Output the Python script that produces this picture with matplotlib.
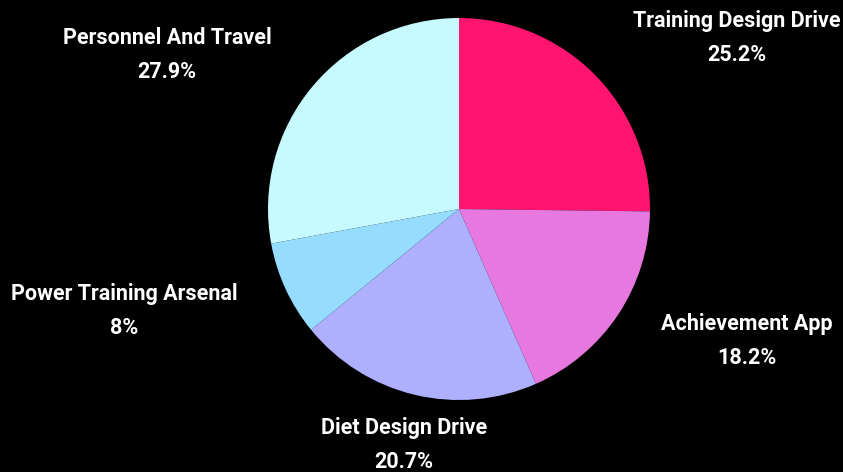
import matplotlib.pyplot as plt

labels = ['Training Design Drive', 'Achievement App', 'Diet Design Drive',
          'Power Training Arsenal', 'Personnel And Travel']
values = [25.2, 18.2, 20.7, 8, 27.9]
pct_text = ['25.2%', '18.2%', '20.7%', '8%', '27.9%']
colors = ['#ff1470', '#e678e0', '#aeb0fe', '#96dcff', '#c6faff']

# label centres in pixels (top-left origin)
label_pos = [(737, 38), (747, 341), (404, 445), (124, 311), (167, 55)]

W, H = 843, 472
fig = plt.figure(figsize=(W / 100, H / 100), dpi=100)
fig.patch.set_facecolor('black')
ax = fig.add_axes([0, 0, 1, 1])
ax.set_facecolor('black')

ax.pie(values, colors=colors, startangle=90, counterclock=False,
       center=(459, H - 209), radius=191, frame=True,
       wedgeprops=dict(linewidth=0))
ax.set_xlim(0, W)
ax.set_ylim(0, H)
ax.axis('off')

for lab, pct, (x, y) in zip(labels, pct_text, label_pos):
    ax.text(x, H - y, lab + '\n' + pct, ha='center', va='center',
            color='white', fontsize=15.5, fontweight='bold',
            family='Roboto', linespacing=1.7)

fig.savefig('out.png', dpi=100, facecolor='black')
